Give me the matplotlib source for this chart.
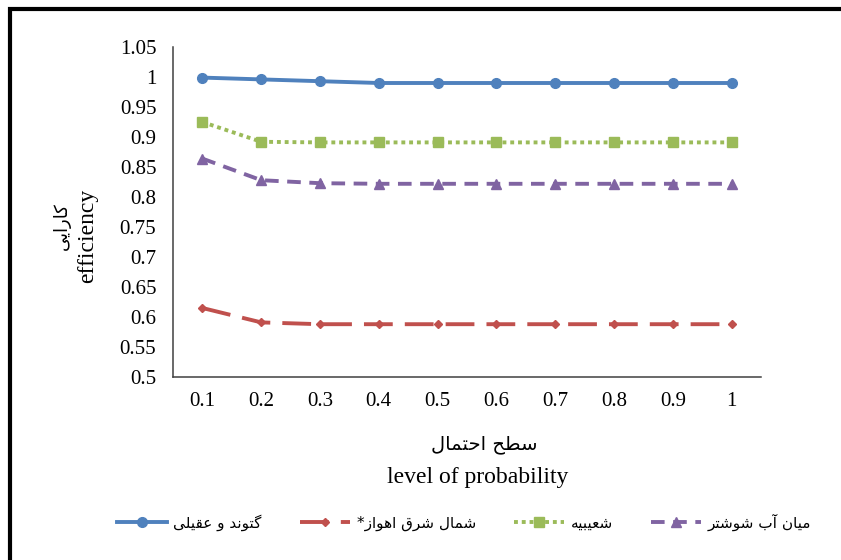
import matplotlib
matplotlib.use("Agg")
import matplotlib.pyplot as plt
from matplotlib.patches import Rectangle
import numpy as np

# data
levels = ["0.1", "0.2", "0.3", "0.4", "0.5", "0.6", "0.7", "0.8", "0.9", "1"]
gotvand = [0.999, 0.996, 0.993, 0.990, 0.990, 0.990, 0.990, 0.990, 0.990, 0.990]
ahvaz = [0.615, 0.591, 0.588, 0.588, 0.588, 0.588, 0.588, 0.588, 0.588, 0.588]
shoaibiyeh = [0.925, 0.892, 0.891, 0.891, 0.891, 0.891, 0.891, 0.891, 0.891, 0.891]
mianab = [0.864, 0.828, 0.823, 0.822, 0.822, 0.822, 0.822, 0.822, 0.822, 0.822]
series_names = ["گتوند و عقیلی", "شمال شرق اهواز*", "شعیبیه", "میان آب شوشتر"]
yticks = [0.5, 0.55, 0.6, 0.65, 0.7, 0.75, 0.8, 0.85, 0.9, 0.95, 1.0, 1.05]

# matplotlib has no arabic shaping, so pick presentation forms by hand
# (isolated, final) for right-joining letters, (isolated, final, initial, medial) otherwise
FORMS = {
    "ا": "\uFE8D\uFE8E", "آ": "\uFE81\uFE82", "د": "\uFEA9\uFEAA",
    "ر": "\uFEAD\uFEAE", "ز": "\uFEAF\uFEB0", "و": "\uFEED\uFEEE",
    "ب": "\uFE8F\uFE90\uFE91\uFE92", "ت": "\uFE95\uFE96\uFE97\uFE98",
    "ح": "\uFEA1\uFEA2\uFEA3\uFEA4", "س": "\uFEB1\uFEB2\uFEB3\uFEB4",
    "ش": "\uFEB5\uFEB6\uFEB7\uFEB8", "ط": "\uFEC1\uFEC2\uFEC3\uFEC4",
    "ع": "\uFEC9\uFECA\uFECB\uFECC", "ق": "\uFED5\uFED6\uFED7\uFED8",
    "ل": "\uFEDD\uFEDE\uFEDF\uFEE0", "م": "\uFEE1\uFEE2\uFEE3\uFEE4",
    "ن": "\uFEE5\uFEE6\uFEE7\uFEE8", "ه": "\uFEE9\uFEEA\uFEEB\uFEEC",
    "ی": "\uFBFC\uFBFD\uFBFE\uFBFF", "ک": "\uFB8E\uFB8F\uFB90\uFB91",
    "گ": "\uFB92\uFB93\uFB94\uFB95",
}


def shape(text):
    out = []
    for i, ch in enumerate(text):
        if ch not in FORMS:
            out.append(ch)
            continue
        prev = text[i - 1] if i > 0 else ""
        nxt = text[i + 1] if i + 1 < len(text) else ""
        join_prev = prev in FORMS and len(FORMS[prev]) == 4
        join_next = len(FORMS[ch]) == 4 and nxt in FORMS
        f = FORMS[ch]
        if join_prev and join_next:
            out.append(f[3])
        elif join_prev:
            out.append(f[1])
        elif join_next:
            out.append(f[2])
        else:
            out.append(f[0])
    return "".join(out)[::-1]


plt.rcParams["font.family"] = ["Liberation Serif", "DejaVu Sans"]

fig = plt.figure(figsize=(8.41, 5.60), dpi=100)
ax = fig.add_axes([173 / 841, 1 - 377 / 560, 588 / 841, 330 / 560])

x = np.arange(len(levels))
ax.plot(x, gotvand, color="#4F81BD", lw=2.8, marker="o", ms=7, label=shape(series_names[0]))
ax.plot(x, ahvaz, color="#C0504D", lw=2.8, marker="D", ms=4.5,
        dashes=(7.4, 3.1), label=shape(series_names[1]))
ax.plot(x, shoaibiyeh, color="#9BBB59", lw=2.8, marker="s", ms=7,
        dashes=(1, 1), label=shape(series_names[2]))
ax.plot(x, mianab, color="#8064A2", lw=2.8, marker="^", ms=7,
        dashes=(3.5, 2.2), label=shape(series_names[3]))

ax.set_xlim(-0.5, len(levels) - 0.5)
ax.set_ylim(0.5, 1.05)
ax.set_xticks(x)
ax.set_xticklabels(levels)
ax.set_yticks(yticks)
ax.set_yticklabels([f"{round(v, 2):g}" for v in yticks])
ax.tick_params(length=0, labelsize=15)
ax.tick_params(axis="y", pad=12)
ax.tick_params(axis="x", pad=11)
for s in ["top", "right"]:
    ax.spines[s].set_visible(False)
for s in ["left", "bottom"]:
    ax.spines[s].set_color("#404040")
    ax.spines[s].set_linewidth(1.1)

# axis titles, persian over english
fig.text(484 / 841, 1 - 445 / 560, shape("سطح احتمال"), family="DejaVu Sans",
         fontsize=14, ha="center", va="center")
fig.text(478 / 841, 1 - 478 / 560, "level of probability", fontsize=17,
         ha="center", va="center")
fig.text(62 / 841, 1 - 226 / 560, shape("کارایی"), family="DejaVu Sans",
         fontsize=13, ha="center", va="center", rotation=90)
fig.text(88 / 841, 1 - 236 / 560, "efficiency", fontsize=17,
         ha="center", va="center", rotation=90)

fig.legend(loc="center", bbox_to_anchor=(464 / 841, 1 - 522 / 560), ncol=4,
           frameon=False, handlelength=3.3, columnspacing=2.5, handletextpad=0.4,
           prop={"family": "DejaVu Sans", "size": 11})

# thick frame round the picture (right and bottom fall outside)
fig.patches.append(Rectangle((10 / 841, -0.1), 1.2, 1.1 - 8.5 / 560, fill=False,
                             lw=3, ec="black", transform=fig.transFigure))

fig.savefig("out.png", dpi=100)
